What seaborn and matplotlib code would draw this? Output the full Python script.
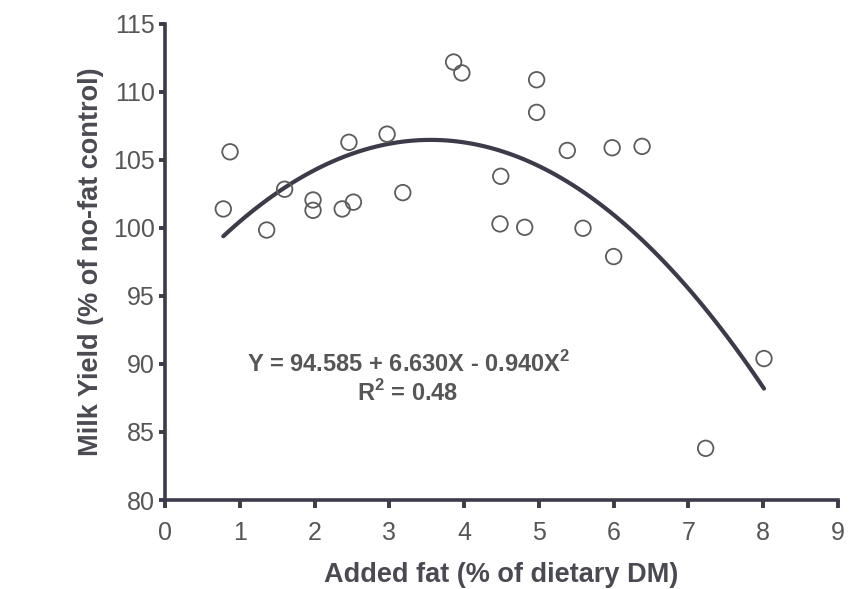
import numpy as np
import pandas as pd
import matplotlib
matplotlib.use("Agg")
import matplotlib.pyplot as plt
import seaborn as sns

# added fat (% of dietary DM) and milk yield (% of no-fat control)
fat = [0.78, 0.87, 1.36, 1.60, 1.98, 1.98, 2.37, 2.52, 2.46, 2.97, 3.18,
       3.86, 3.97, 4.97, 4.97, 5.38, 5.98, 6.38, 4.49, 4.48, 4.81, 5.59,
       6.00, 8.01, 7.23]
milk = [101.4, 105.6, 99.85, 102.85, 102.06, 101.3, 101.4, 101.9, 106.3, 106.9, 102.6,
        112.2, 111.4, 110.9, 108.5, 105.7, 105.9, 106.0, 103.8, 100.3, 100.05, 99.98,
        97.9, 90.4, 83.8]
x_ticks = list(range(0, 10))
y_ticks = list(range(80, 116, 5))
eq_text = "Y = 94.585 + 6.630X - 0.940X$^{\\mathbf{2}}$"
r2_text = "R$^{\\mathbf{2}}$ = 0.48"

df = pd.DataFrame({"fat": fat, "milk": milk})

sns.set_style("ticks")
plt.rcParams["font.family"] = ["Liberation Sans", "DejaVu Sans"]
plt.rcParams["mathtext.fontset"] = "custom"
plt.rcParams["mathtext.rm"] = "Liberation Sans"
plt.rcParams["mathtext.bf"] = "Liberation Sans:bold"

axis_col = "#3d3b4a"
text_col = "#565656"
label_col = "#4a4a52"

fig = plt.figure(figsize=(8.61, 5.89), dpi=100)
ax = fig.add_axes([0.1916, 0.1511, 0.7817, 0.8082])

# quadratic fit drawn by seaborn from the points
sns.regplot(data=df, x="fat", y="milk", order=2, ci=None, scatter=False,
            line_kws={"color": axis_col, "lw": 3.0}, ax=ax)
sns.scatterplot(data=df, x="fat", y="milk", marker="o", s=125,
                facecolor="none", edgecolor="#5c5c5c", linewidth=1.3, ax=ax, zorder=3)

ax.set_xlim(0, 9)
ax.set_ylim(80, 115)
ax.set_xticks(x_ticks)
ax.set_yticks(y_ticks)
sns.despine(ax=ax)
for sp in ["left", "bottom"]:
    ax.spines[sp].set_linewidth(2.6)
    ax.spines[sp].set_color(axis_col)
ax.tick_params(axis="both", width=2.8, color=axis_col,
               labelsize=18, labelcolor=text_col)
ax.tick_params(axis="y", length=4.5, pad=3)
ax.tick_params(axis="x", length=6, pad=9)

ax.set_xlabel("Added fat (% of dietary DM)", fontsize=19.5, fontweight="bold",
              color=label_col, labelpad=12)
ax.set_ylabel("Milk Yield (% of no-fat control)", fontsize=19.5, fontweight="bold",
              color=label_col, labelpad=6)

ax.text(3.26, 90.0, eq_text, ha="center", va="center", fontsize=17,
        fontweight="bold", color=text_col)
ax.text(3.24, 87.9, r2_text, ha="center", va="center", fontsize=17,
        fontweight="bold", color=text_col)

fig.savefig("out.png", dpi=100, facecolor="white")
